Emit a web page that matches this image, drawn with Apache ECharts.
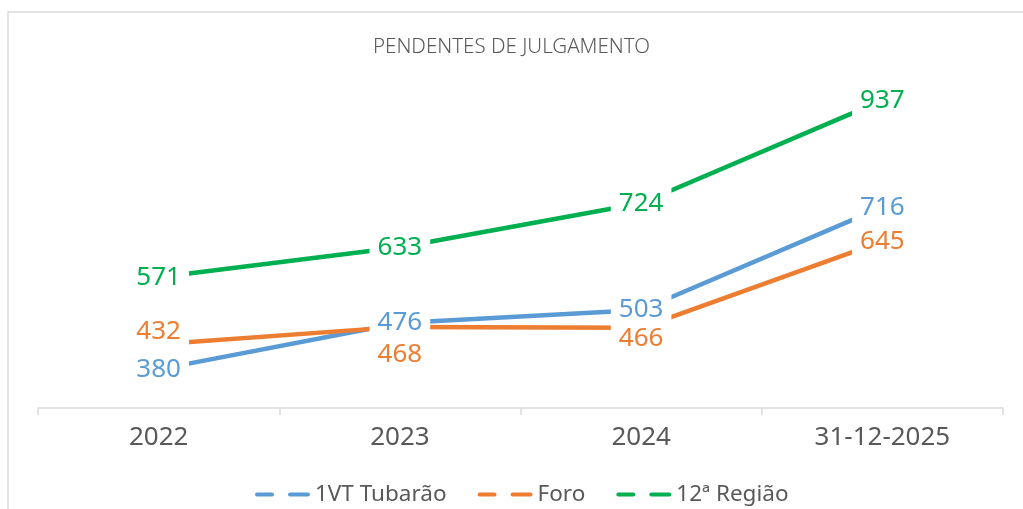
<!DOCTYPE html>
<html>
<head>
<meta charset="utf-8">
<script src="https://cdn.jsdelivr.net/npm/echarts@6/dist/echarts.min.js"></script>
<style>
  html, body { margin: 0; padding: 0; background: #fff; }
  #chart { width: 1023px; height: 509px; }
</style>
</head>
<body>
<div id="chart"></div>
<script>
// categories and values
const categories = ['2022', '2023', '2024', '31-12-2025']
const tubarao = [380, 476, 503, 716]
const foro = [432, 468, 466, 645]
const regiao = [571, 633, 724, 937]

// vertical nudge of the Foro labels so they don't sit on the blue ones
const foroLabelShift = [-13, 28, 11, 0]

const FONT = 'Noto Sans'
const GREY = '#595959'
const legendIcon = 'path://M2,0 h15 a2,2 0 0 1 0,4 h-15 a2,2 0 0 1 0,-4z M35,0 h18 a2,2 0 0 1 0,4 h-18 a2,2 0 0 1 0,-4z'

function makeSeries(name, values, color, shifts) {
  return {
    name: name,
    type: 'line',
    symbol: 'circle',
    symbolSize: 0,
    lineStyle: { width: 4.5, color: color, cap: 'round' },
    itemStyle: { color: color },
    label: {
      show: true,
      position: 'inside',
      color: color,
      fontFamily: FONT,
      fontSize: 26,
      backgroundColor: '#fff',
      padding: [3, 8]
    },
    data: values.map((v, i) => shifts
      ? { value: v, label: { offset: [0, shifts[i]] } }
      : v)
  }
}

const chart = echarts.init(document.getElementById('chart'))
chart.setOption({
  animation: false,
  backgroundColor: '#fff',
  title: {
    text: 'PENDENTES DE JULGAMENTO',
    left: 'center',
    top: 32,
    textStyle: { color: GREY, fontFamily: FONT, fontSize: 20.5, fontWeight: 300 }
  },
  graphic: [{
    type: 'rect',
    shape: { x: 8, y: 12, width: 1100, height: 600 },
    style: { fill: 'none', stroke: '#d9d9d9', lineWidth: 1.5 },
    silent: true
  }],
  legend: {
    left: 250,
    top: 478,
    itemWidth: 55,
    itemHeight: 4,
    itemGap: 31,
    icon: legendIcon,
    textStyle: { color: GREY, fontFamily: FONT, fontSize: 22.5, padding: [0, 0, 0, 0] },
    data: ['1VT Tubarão', 'Foro', '12ª Região']
  },
  grid: { left: 38, right: 20, top: 70, bottom: 101, containLabel: false },
  xAxis: {
    type: 'category',
    data: categories,
    boundaryGap: true,
    axisLine: { lineStyle: { color: '#d9d9d9', width: 1.5 } },
    axisTick: { show: true, length: 7, lineStyle: { color: '#d9d9d9', width: 1.5 } },
    axisLabel: { color: GREY, fontFamily: FONT, fontSize: 26, margin: 17 }
  },
  yAxis: {
    type: 'value',
    min: 300,
    max: 1000,
    interval: 100,
    show: false,
    splitLine: { show: false }
  },
  series: [
    makeSeries('1VT Tubarão', tubarao, '#5B9BD5'),
    makeSeries('Foro', foro, '#ED7D31', foroLabelShift),
    makeSeries('12ª Região', regiao, '#00B050')
  ]
})
</script>
</body>
</html>
